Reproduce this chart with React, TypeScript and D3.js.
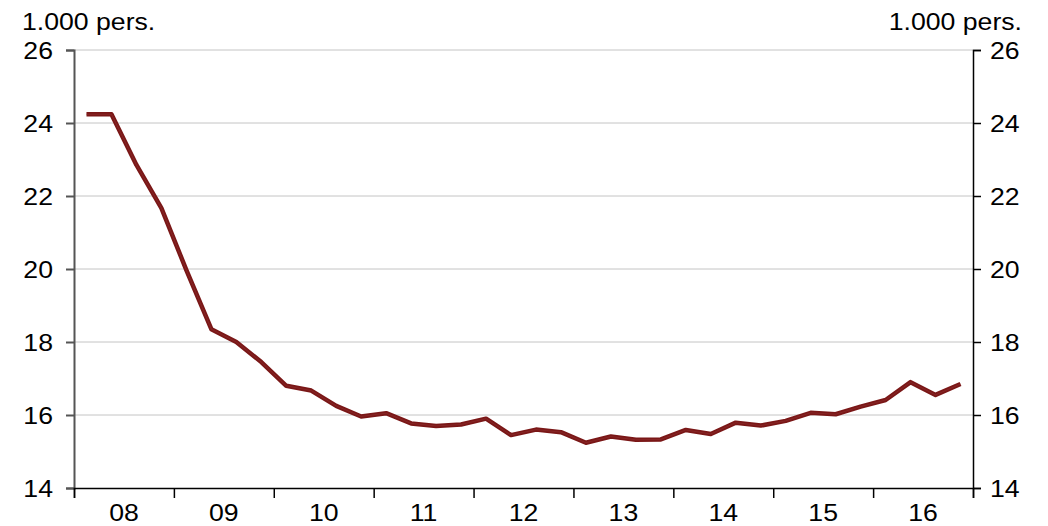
import React, { useEffect, useRef } from 'react';
import * as d3 from 'd3';

// Quarterly values, 2008 Q1 - 2016 Q4 (1.000 pers.)
const values = [
  24.24, 24.24, 22.85, 21.67, 19.97, 18.35, 18.0, 17.45,
  16.8, 16.67, 16.25, 15.96, 16.05, 15.77, 15.7, 15.74,
  15.9, 15.45, 15.6, 15.53, 15.24, 15.41, 15.32, 15.33,
  15.59, 15.48, 15.79, 15.71, 15.84, 16.06, 16.02, 16.23,
  16.41, 16.9, 16.55, 16.85,
];
const yearLabels = ['08', '09', '10', '11', '12', '13', '14', '15', '16'];
const yTicks = [14, 16, 18, 20, 22, 24, 26];
const unitLabel = '1.000 pers.';

const App: React.FC = () => {
  const ref = useRef<SVGSVGElement | null>(null);

  useEffect(() => {
    if (!ref.current) return;
    const W = 1048;
    const H = 526;
    const left = 74;
    const right = 973;
    const top = 50;
    const bottom = 488;
    const font = '"Liberation Sans", Arial, sans-serif';
    const stretch = 'scale(1.11,1)'; // reference text is slightly wide

    const svg = d3.select(ref.current).attr('width', W).attr('height', H);
    svg.selectAll('*').remove();

    const x = d3.scaleLinear().domain([0, values.length]).range([left, right]);
    const y = d3.scaleLinear().domain([14, 26]).range([bottom, top]);

    const label = (px: number, py: number, txt: string, anchor: string) =>
      svg.append('text')
        .attr('transform', `translate(${px},${py}) ${stretch}`)
        .attr('text-anchor', anchor)
        .style('font-size', '24px')
        .style('font-family', font)
        .attr('fill', '#000')
        .text(txt);

    // gridlines
    svg.append('g')
      .selectAll('line')
      .data(yTicks.filter((t) => t > 14))
      .enter().append('line')
      .attr('x1', left)
      .attr('x2', right)
      .attr('y1', (d) => y(d))
      .attr('y2', (d) => y(d))
      .attr('stroke', '#c4c4c4')
      .attr('stroke-width', 1);

    // left axis
    const la = svg.append('g').attr('transform', `translate(${left},0)`)
      .call(d3.axisLeft(y).tickValues(yTicks).tickSize(8).tickFormat(() => ''));
    la.select('.domain').attr('stroke', '#555').attr('stroke-width', 2);
    la.selectAll('.tick line').attr('stroke', '#555').attr('stroke-width', 2);

    // right axis
    const ra = svg.append('g').attr('transform', `translate(${right},0)`)
      .call(d3.axisRight(y).tickValues(yTicks).tickSize(8).tickFormat(() => ''));
    ra.select('.domain').attr('stroke', '#000').attr('stroke-width', 1.5);
    ra.selectAll('.tick line').attr('stroke', '#000').attr('stroke-width', 1.5);

    yTicks.forEach((t) => {
      label(53, y(t) + 9, String(t), 'end');
      label(990, y(t) + 9, String(t), 'start');
    });

    // bottom axis with year boundaries
    const yearTicks = d3.range(0, values.length + 1, 4);
    const ba = svg.append('g').attr('transform', `translate(0,${bottom})`)
      .call(d3.axisBottom(x).tickValues(yearTicks).tickSize(10).tickFormat(() => ''));
    ba.select('.domain').attr('stroke', '#000').attr('stroke-width', 1.5);
    ba.selectAll('.tick line').attr('stroke', '#000').attr('stroke-width', 1.5);

    yearLabels.forEach((d, i) => label(x(i * 4 + 2), 521, d, 'middle'));

    // unit labels
    label(22, 30, unitLabel, 'start');
    label(1022, 30, unitLabel, 'end');

    // line
    const line = d3.line<number>()
      .x((_, i) => x(i + 0.5))
      .y((d) => y(d));

    svg.append('path')
      .datum(values)
      .attr('d', line)
      .attr('fill', 'none')
      .attr('stroke', '#7a1717')
      .attr('stroke-width', 4.5)
      .attr('stroke-linejoin', 'round');
    svg.append('path')
      .datum(values)
      .attr('d', line)
      .attr('fill', 'none')
      .attr('stroke', '#8f3030')
      .attr('stroke-width', 1)
      .attr('stroke-opacity', 0.6);
  }, []);

  return (
    <div style={{ position: 'absolute', left: 0, top: 0 }}>
      <svg ref={ref} style={{ display: 'block', background: '#fff' }}></svg>
    </div>
  );
};

export default App;
